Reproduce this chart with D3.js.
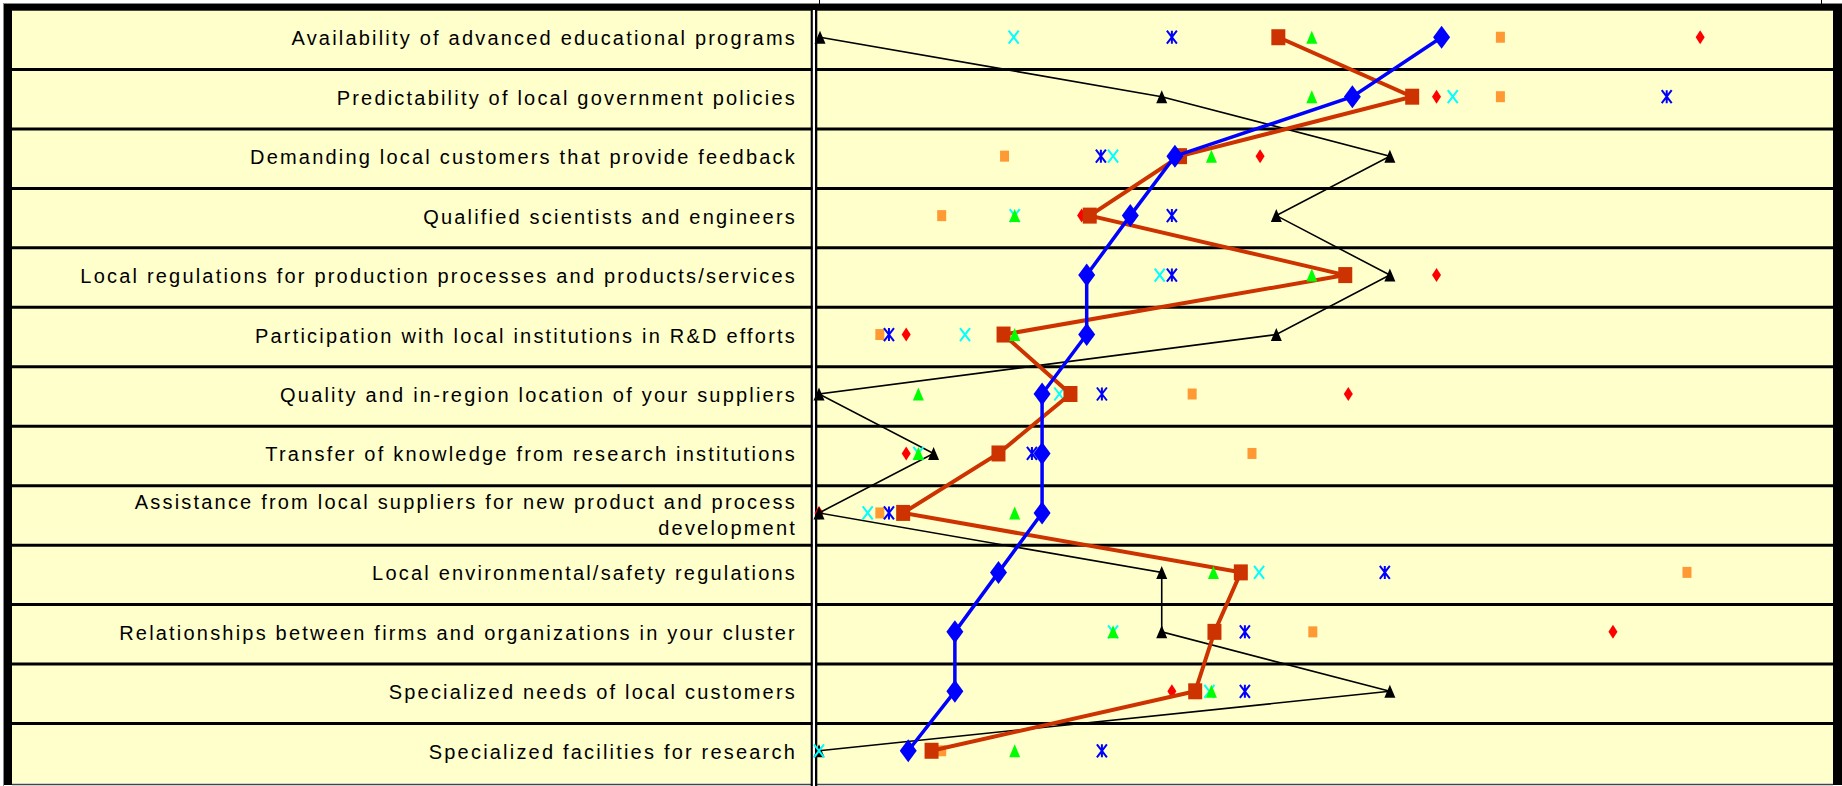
<!DOCTYPE html>
<html>
<head>
<meta charset="utf-8">
<script src="https://cdn.jsdelivr.net/npm/d3@7"></script>
<style>
    body {
        margin: 0;
        background: white;
    }
    svg {
        display: block;
    }
    .label {
        font-family: "Liberation Sans", Arial, sans-serif;
        font-size: 20px;
        letter-spacing: 2.2px;
        fill: black;
    }
</style>
</head>
<body>
<svg id="chart"></svg>
<script>
// categories, top to bottom
let categories = [
    "Availability of advanced educational programs",
    "Predictability of local government policies",
    "Demanding local customers that provide feedback",
    "Qualified scientists and engineers",
    "Local regulations for production processes and products/services",
    "Participation with local institutions in R&D efforts",
    "Quality and in-region location of your suppliers",
    "Transfer of knowledge from research institutions",
    "Assistance from local suppliers for new product and process development",
    "Local environmental/safety regulations",
    "Relationships between firms and organizations in your cluster",
    "Specialized needs of local customers",
    "Specialized facilities for research"
]

// values (0-100 along the row), null = not visible
let diamondBlue  = [61.4, 52.6, 35.1, 30.7, 26.4, 26.4, 22.0, 22.0, 22.0, 17.7, 13.4, 13.4, 8.8]
let squareRust   = [45.3, 58.5, 35.6, 26.7, 51.9, 18.2, 24.8, 17.7, 8.3, 41.6, 39.0, 37.1, 11.1]
let triangleBlack = [0.1, 33.8, 56.3, 45.1, 56.3, 45.1, 0.0, 11.3, 0.0, 33.8, 33.8, 56.3, 0.0]
let triangleGreen = [48.6, 48.6, 38.7, 19.3, 48.6, 19.3, 9.8, 9.8, 19.3, 38.9, 29.0, 38.7, 19.3]
let crossCyan    = [19.2, 62.5, 29.0, 19.3, 33.6, 14.4, 23.7, 9.8, 4.8, 43.4, 29.0, 38.5, 0.0]
let starBlue     = [34.8, 83.6, 27.8, 34.8, 34.8, 6.9, 27.9, 21.0, 6.9, 55.8, 42.0, 42.0, 27.9]
let squareOrange = [67.2, 67.2, 18.3, 12.1, null, 6.0, 36.8, 42.7, 6.0, 85.6, 48.7, null, 12.1]
let diamondRed   = [86.9, 60.9, 43.5, 25.9, 60.9, 8.6, 52.2, 8.6, 0.0, null, 78.3, 34.8, null]

let width = 1842
let height = 786
let frame = { left: 12, top: 10, right: 1833, bottom: 783, divider: 811 }

let svg = d3.select('#chart')
    .attr('width', width)
    .attr('height', height)

let yScale = d3.scaleBand()
    .domain(categories)
    .range([frame.top, frame.bottom])

let xScale = d3.scaleLinear()
    .domain([0, 100])
    .range([819, 1833])

function rowY(i) {
    return yScale(categories[i]) + yScale.bandwidth() / 2 - 2.5
}

// marker shapes
function diamondPath(w, h) {
    return `M0,${-h / 2}L${w / 2},0L0,${h / 2}L${-w / 2},0Z`
}
function squarePath(w, h) {
    return `M${-w / 2},${-h / 2}h${w}v${h}h${-w}Z`
}
function trianglePath(w, h) {
    return `M0,${-h / 2}L${w / 2},${h / 2}L${-w / 2},${h / 2}Z`
}
function crossPath(w, h) {
    return `M${-w / 2},${-h / 2}L${w / 2},${h / 2}M${w / 2},${-h / 2}L${-w / 2},${h / 2}`
}
function starPath(w, h) {
    return crossPath(w, h) + `M0,${-h / 2}V${h / 2}`
}

// background and frame
svg.append('rect')
    .attr('x', frame.left).attr('y', frame.top)
    .attr('width', frame.right - frame.left).attr('height', frame.bottom - frame.top)
    .attr('fill', '#FFFFCC')

svg.append('line')
    .attr('x1', 3).attr('x2', width).attr('y1', 3.5).attr('y2', 3.5)
    .attr('stroke', '#888').attr('stroke-width', 1)
svg.append('line')
    .attr('x1', 3.5).attr('x2', 3.5).attr('y1', 3).attr('y2', height)
    .attr('stroke', '#888').attr('stroke-width', 1)
svg.selectAll('.topTick').data([819.5, 1821.5]).enter().append('line')
    .attr('x1', d => d).attr('x2', d => d).attr('y1', 0).attr('y2', 5)
    .attr('stroke', 'black').attr('stroke-width', 1)

// row separators
svg.selectAll('.sep').data(categories.slice(1)).enter().append('line')
    .attr('x1', frame.left).attr('x2', frame.right)
    .attr('y1', d => yScale(d)).attr('y2', d => yScale(d))
    .attr('stroke', 'black').attr('stroke-width', 3)

svg.append('line')
    .attr('x1', frame.left).attr('x2', frame.right)
    .attr('y1', 784.5).attr('y2', 784.5)
    .attr('stroke', '#444').attr('stroke-width', 1.5)

svg.append('rect').attr('x', 4).attr('y', 4).attr('width', width - 4).attr('height', 6.7).attr('fill', 'black')
svg.append('rect').attr('x', 4).attr('y', 4).attr('width', 8).attr('height', 781).attr('fill', 'black')
svg.append('rect').attr('x', frame.right).attr('y', 4).attr('width', width - frame.right).attr('height', 781).attr('fill', 'black')

// double divider between labels and plot
svg.append('rect').attr('x', 810.7).attr('y', 4).attr('width', 2.2).attr('height', 782).attr('fill', 'black')
svg.append('rect').attr('x', 812.9).attr('y', 10).attr('width', 2.1).attr('height', 776).attr('fill', 'white')
svg.append('rect').attr('x', 815).attr('y', 4).attr('width', 2.3).attr('height', 782).attr('fill', 'black')

// labels, wrapped when too long for the column
let labels = svg.selectAll('.label').data(categories).enter().append('text')
    .attr('class', 'label')
    .attr('text-anchor', 'end')

labels.each(function (d, i) {
    let text = d3.select(this)
    let cy = yScale(d) + yScale.bandwidth() / 2
    text.text(d)
    if (this.getComputedTextLength() < 775) {
        text.attr('x', 797).attr('y', cy + 5.5)
        return
    }
    let words = d.split(' ')
    let rest = []
    text.text(null)
    let probe = text.append('tspan').text(words.join(' '))
    while (probe.node().getComputedTextLength() > 700 && words.length > 1) {
        rest.unshift(words.pop())
        probe.text(words.join(' '))
    }
    probe.attr('x', 797).attr('y', cy - 6)
    text.append('tspan').attr('x', 797).attr('y', cy + 20).text(rest.join(' '))
})

// series in drawing order
let series = [
    { values: diamondRed, shape: diamondPath(9, 14), fill: '#FF0000' },
    { values: squareOrange, shape: squarePath(9, 11), fill: '#FF9933' },
    { values: triangleBlack, shape: trianglePath(11, 13), fill: 'black', line: 'black', lineWidth: 1.6 },
    { values: crossCyan, shape: crossPath(10, 13), stroke: '#00FFFF' },
    { values: starBlue, shape: starPath(10, 13), stroke: '#0000FF' },
    { values: squareRust, shape: squarePath(14, 16), fill: '#CC3300', line: '#CC3300', lineWidth: 4 },
    { values: diamondBlue, shape: diamondPath(17, 23), fill: '#0000FF', line: '#0000FF', lineWidth: 3.5 },
    { values: triangleGreen, shape: trianglePath(11, 13), fill: '#00FF00' }
]

let lineGen = d3.line()
    .defined(d => d.v != null)
    .x(d => xScale(d.v))
    .y(d => rowY(d.i))

series.forEach(s => {
    let points = s.values.map((v, i) => ({ v, i }))
    let g = svg.append('g')
    if (s.line) {
        g.append('path')
            .datum(points)
            .attr('d', lineGen)
            .attr('fill', 'none')
            .attr('stroke', s.line)
            .attr('stroke-width', s.lineWidth)
    }
    g.selectAll('.mark').data(points.filter(p => p.v != null)).enter().append('path')
        .attr('transform', p => `translate(${xScale(p.v)},${rowY(p.i)})`)
        .attr('d', s.shape)
        .attr('fill', s.fill || 'none')
        .attr('stroke', s.stroke || 'none')
        .attr('stroke-width', s.stroke ? 2 : 0)
})
</script>
</body>
</html>
